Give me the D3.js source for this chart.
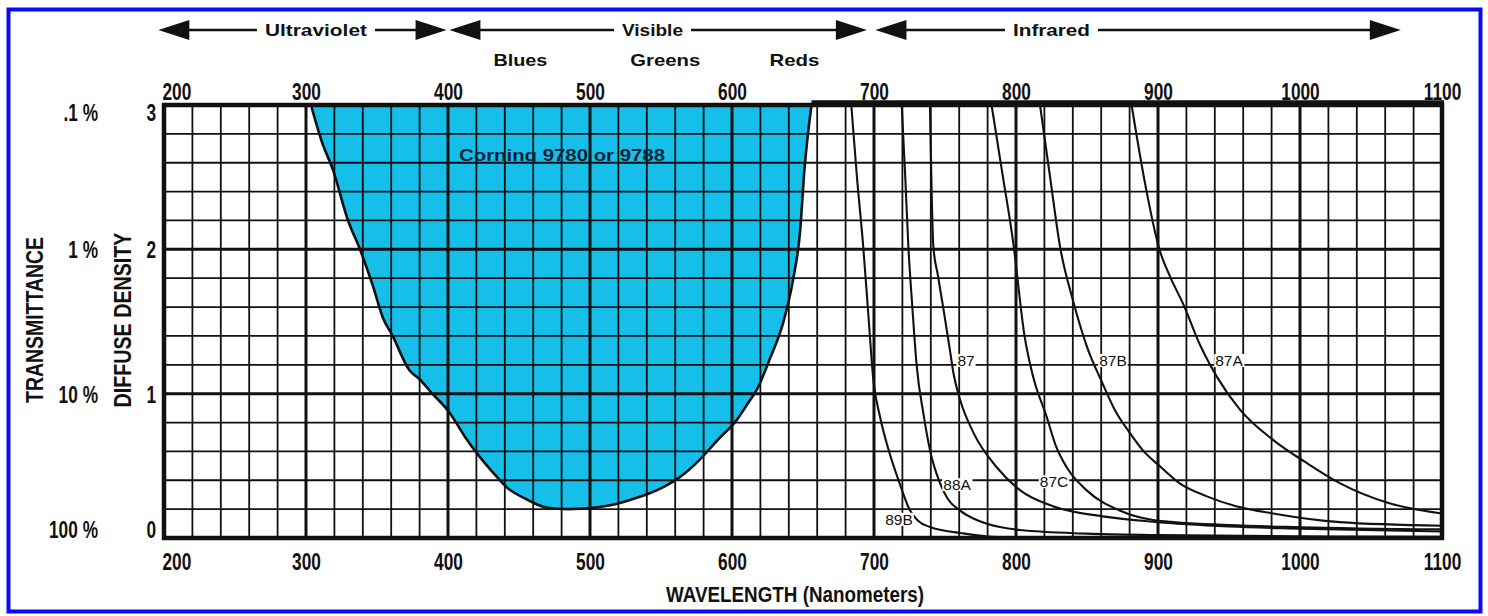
<!DOCTYPE html>
<html>
<head>
<meta charset="utf-8">
<title>Filter transmission</title>
<script src="https://cdn.jsdelivr.net/npm/d3@7"></script>
<style>
	html, body { margin:0; padding:0; background:#fff; }
	svg { display:block; }
	.cond { font-family:"Liberation Sans", Arial, sans-serif; font-weight:bold; fill:#111; }
	.head { font-family:"Liberation Sans", Arial, sans-serif; font-weight:bold; fill:#111; font-size:17px; }
	.ir   { font-family:"Liberation Sans", Arial, sans-serif; font-size:15.5px; fill:#111; }
</style>
</head>
<body>
<div id="svgContainer"></div>
<script>
// axis values
var wavelengthTicks = [200, 300, 400, 500, 600, 700, 800, 900, 1000, 1100];
var densityTicks = [0, 1, 2, 3];
var transmittanceLabels = ["100 %", "10 %", "1 %", ".1 %"];

// spectrum bands on top (nm)
var bandNames = ["Ultraviolet", "Visible", "Infrared"];
var bandStart = [196, 401, 701];
var bandEnd = [399, 695, 1071];
var bandLabelAt = [307, 544, 825];
var colourNames = ["Blues", "Greens", "Reds"];
var colourAt = [451, 553, 644];

// Corning 9780 / 9788 (wavelength nm, diffuse density)
var corningWl = [303.5, 311, 319, 329.6, 338, 347, 354, 361, 373, 380, 389, 401, 412, 422.5, 432, 441.5, 455, 469.7, 485, 502, 516, 530, 542, 553, 563, 577, 590, 603.5, 611, 617.6, 627, 636, 643, 648, 651, 656];
var corningDensity = [3, 2.75, 2.55, 2.2, 2.0, 1.75, 1.53, 1.4, 1.16, 1.1, 1.0, 0.87, 0.7, 0.56, 0.45, 0.35, 0.27, 0.21, 0.2, 0.21, 0.23, 0.27, 0.31, 0.36, 0.42, 0.54, 0.68, 0.82, 0.93, 1.03, 1.25, 1.49, 1.79, 2.13, 2.55, 3];

// infrared filters
var filterNames = ["89B", "88A", "87", "87C", "87B", "87A"];
var wl89B = [684, 688, 692.4, 696, 699.5, 704, 710, 718, 725.4, 731, 739.4, 750, 760.5, 779, 800];
var dens89B = [3, 2.5, 2.02, 1.55, 1.1, 0.85, 0.62, 0.38, 0.19, 0.12, 0.076, 0.05, 0.035, 0.012, 0.003];
var wl88A = [719.5, 722, 724.2, 727, 730, 735, 739.4, 746.5, 752, 760.6, 770, 779, 803, 850, 900, 1000, 1100];
var dens88A = [3, 2.5, 2.02, 1.6, 1.2, 0.85, 0.61, 0.38, 0.27, 0.19, 0.135, 0.1, 0.055, 0.03, 0.02, 0.012, 0.008];
var wl87 = [739.4, 741.8, 745, 749, 753.5, 756, 760.6, 770, 786.4, 803, 826, 861, 896.5, 950, 1000, 1100];
var dens87 = [3, 2.02, 1.82, 1.58, 1.3, 1.14, 0.96, 0.73, 0.49, 0.33, 0.22, 0.15, 0.113, 0.08, 0.065, 0.045];
var wl87C = [782.8, 790, 798, 806, 812, 821.6, 828, 835.7, 849.8, 873, 896.5, 950, 1000, 1100];
var dens87C = [3, 2.55, 2.05, 1.4, 1.12, 0.84, 0.64, 0.49, 0.33, 0.19, 0.125, 0.09, 0.075, 0.06];
var wl87B = [816.9, 824, 831, 840, 849.8, 861, 870, 880, 890, 901, 915, 934, 955, 981, 1028, 1100];
var dens87B = [3, 2.5, 2.02, 1.65, 1.33, 1.07, 0.88, 0.73, 0.6, 0.5, 0.38, 0.29, 0.22, 0.17, 0.11, 0.085];
var wl87A = [881.4, 891, 901, 909, 917.8, 929, 941.3, 957.7, 981, 1004.7, 1028, 1063, 1100];
var dens87A = [3, 2.45, 2.0, 1.8, 1.62, 1.35, 1.12, 0.89, 0.68, 0.52, 0.38, 0.24, 0.17];
// where the filter names sit (nm, density)
var labelWl = [717.6, 758.5, 764.8, 826.8, 868.3, 950];
var labelDensity = [0.13, 0.37, 1.23, 0.39, 1.23, 1.23];

var W = 1488, H = 616;
var plot = {left:164, right:1442, top:105, bottom:538};
var condScale = 0.72; // narrow bold labels

var svg = d3.select("#svgContainer").append("svg").attr("width", W).attr("height", H);

var xScale = d3.scaleLinear().domain([200, 1100]).range([plot.left, plot.right]);
var yScale = d3.scaleLinear().domain([0, 3]).range([plot.bottom, plot.top]);

function zipSeries(wl, dens) {
	return wl.map(function (w, i) { return {w:w, d:dens[i]}; });
}
var corning = zipSeries(corningWl, corningDensity);
var filters = [
	zipSeries(wl89B, dens89B), zipSeries(wl88A, dens88A), zipSeries(wl87, dens87),
	zipSeries(wl87C, dens87C), zipSeries(wl87B, dens87B), zipSeries(wl87A, dens87A)
];

// blue frame
svg.append("rect")
	.attr("x", 8.5).attr("y", 9.5).attr("width", 1472).attr("height", 602)
	.attr("fill", "none").attr("stroke", "#0a0af5").attr("stroke-width", 4);

// corning fill (between top of the graph and the curve)
var area = d3.area()
	.x(function (d) { return xScale(d.w); })
	.y0(yScale(3))
	.y1(function (d) { return yScale(d.d); })
	.curve(d3.curveMonotoneX);
svg.append("path").datum(corning).attr("d", area).attr("fill", "#16bfea");

// grid
var grid = svg.append("g").attr("class", "grid");
var vLines = d3.range(200, 1101, 20);
var hLines = d3.range(0, 3.001, 0.2);
grid.selectAll("line.v").data(vLines).enter().append("line")
	.attr("x1", function (d) { return xScale(d); }).attr("x2", function (d) { return xScale(d); })
	.attr("y1", plot.top).attr("y2", plot.bottom)
	.attr("stroke", "#111")
	.attr("stroke-width", function (d) { return d % 100 === 0 ? 3 : 1.8; });
grid.selectAll("line.h").data(hLines).enter().append("line")
	.attr("y1", function (d) { return yScale(d); }).attr("y2", function (d) { return yScale(d); })
	.attr("x1", plot.left).attr("x2", plot.right)
	.attr("stroke", "#111")
	.attr("stroke-width", function (d) { return Math.abs(d - Math.round(d)) < 1e-6 ? 3 : 1.8; });

// border
svg.append("rect")
	.attr("x", plot.left).attr("y", plot.top)
	.attr("width", plot.right - plot.left).attr("height", plot.bottom - plot.top)
	.attr("fill", "none").attr("stroke", "#111").attr("stroke-width", 4.5);
svg.append("line")
	.attr("x1", xScale(656)).attr("x2", plot.right + 2)
	.attr("y1", plot.top - 3).attr("y2", plot.top - 3)
	.attr("stroke", "#111").attr("stroke-width", 3.5);

// curves
var lineFunction = d3.line()
	.x(function (d) { return xScale(d.w); })
	.y(function (d) { return yScale(d.d); })
	.curve(d3.curveMonotoneX);

svg.append("path").datum(corning).attr("d", lineFunction)
	.attr("fill", "none").attr("stroke", "#111").attr("stroke-width", 2.6);

svg.append("g").selectAll("path").data(filters).enter().append("path")
	.attr("d", lineFunction)
	.attr("fill", "none").attr("stroke", "#111").attr("stroke-width", 2.1);

// filter labels, white behind
var irLabels = svg.append("g").selectAll("g").data(filterNames).enter().append("g")
	.attr("transform", function (d, i) {
		return "translate(" + xScale(labelWl[i]) + "," + yScale(labelDensity[i]) + ")";
	});
irLabels.append("text").attr("class", "ir")
	.attr("text-anchor", "middle").attr("dy", "0.36em")
	.text(function (d) { return d; });
irLabels.each(function () {
	var g = d3.select(this);
	var bb = g.select("text").node().getBBox();
	g.insert("rect", "text")
		.attr("x", bb.x - 1).attr("y", bb.y + 2)
		.attr("width", bb.width + 2).attr("height", bb.height - 4)
		.attr("fill", "#fff");
});

svg.append("text").attr("class", "head")
	.attr("x", 562).attr("y", 161).attr("text-anchor", "middle")
	.attr("font-size", 18)
	.attr("textLength", 206).attr("lengthAdjust", "spacingAndGlyphs")
	.style("fill", "#0e2236")
	.text("Corning 9780 or 9788");

// axes
function styleCond(sel, size) {
	sel.attr("font-family", null).attr("font-size", null);
	sel.selectAll(".domain").remove();
	sel.selectAll("text").attr("class", "cond").attr("font-size", size || 24)
		.attr("fill", "#111");
}

var topAxis = svg.append("g")
	.attr("transform", "translate(0," + plot.top + ")")
	.call(d3.axisTop(xScale).tickValues(wavelengthTicks).tickSize(0).tickPadding(5).tickFormat(d3.format("d")));
styleCond(topAxis);
var bottomAxis = svg.append("g")
	.attr("transform", "translate(0," + plot.bottom + ")")
	.call(d3.axisBottom(xScale).tickValues(wavelengthTicks).tickSize(0).tickPadding(0).tickFormat(d3.format("d")));
styleCond(bottomAxis);
bottomAxis.selectAll("text").attr("dy", null).attr("y", 32);

[topAxis, bottomAxis].forEach(function (ax) {
	ax.selectAll("text").attr("transform", "scale(" + condScale + ",1)");
	ax.selectAll("text").filter(function (d) { return d === 200; })
		.attr("text-anchor", "start").attr("x", -2 / condScale);
});

function leftLabels(xPos, fmt) {
	var ax = svg.append("g")
		.attr("transform", "translate(" + xPos + ",0)")
		.call(d3.axisLeft(yScale).tickValues(densityTicks).tickSize(0).tickPadding(0).tickFormat(fmt));
	styleCond(ax);
	ax.selectAll("text")
		.attr("x", 0)
		.attr("dy", null)
		.attr("y", function (d) { return d === 3 ? 15 : (d === 0 ? -1 : 8.5); })
		.attr("transform", "scale(" + condScale + ",1)");
	return ax;
}
leftLabels(156, function (d) { return d; });
leftLabels(98, function (d) { return transmittanceLabels[densityTicks.indexOf(d)]; });

// axis titles
svg.append("text").attr("class", "cond")
	.attr("font-size", 22)
	.attr("x", 795).attr("y", 602).attr("text-anchor", "middle")
	.attr("textLength", 258).attr("lengthAdjust", "spacingAndGlyphs")
	.text("WAVELENGTH (Nanometers)");
svg.append("text").attr("class", "cond")
	.attr("font-size", 24)
	.attr("transform", "translate(43,320) rotate(-90)").attr("text-anchor", "middle")
	.attr("textLength", 166).attr("lengthAdjust", "spacingAndGlyphs")
	.text("TRANSMITTANCE");
svg.append("text").attr("class", "cond")
	.attr("font-size", 24)
	.attr("transform", "translate(131,320) rotate(-90)").attr("text-anchor", "middle")
	.attr("textLength", 175).attr("lengthAdjust", "spacingAndGlyphs")
	.text("DIFFUSE DENSITY");

// bands with arrows
var arrowY = 30, headLen = 31, headHalf = 10;
var headWidths = {"Ultraviolet":102, "Visible":61, "Infrared":77};
bandNames.forEach(function (name, i) {
	var x0 = xScale(bandStart[i]), x1 = xScale(bandEnd[i]), xm = xScale(bandLabelAt[i]);
	var half = headWidths[name] / 2 + 8;
	var g = svg.append("g");
	g.append("path")
		.attr("d", "M" + x0 + "," + arrowY + "L" + (x0 + headLen) + "," + (arrowY - headHalf) + "L" + (x0 + headLen) + "," + (arrowY + headHalf) + "Z")
		.attr("fill", "#111");
	g.append("path")
		.attr("d", "M" + x1 + "," + arrowY + "L" + (x1 - headLen) + "," + (arrowY - headHalf) + "L" + (x1 - headLen) + "," + (arrowY + headHalf) + "Z")
		.attr("fill", "#111");
	g.append("line").attr("x1", x0 + headLen - 1).attr("x2", xm - half)
		.attr("y1", arrowY).attr("y2", arrowY).attr("stroke", "#111").attr("stroke-width", 2.5);
	g.append("line").attr("x1", xm + half).attr("x2", x1 - headLen + 1)
		.attr("y1", arrowY).attr("y2", arrowY).attr("stroke", "#111").attr("stroke-width", 2.5);
	g.append("text").attr("class", "head")
		.attr("x", xm).attr("y", arrowY + 6).attr("text-anchor", "middle")
		.attr("textLength", headWidths[name]).attr("lengthAdjust", "spacingAndGlyphs")
		.text(name);
});

var colourWidths = [54, 70, 50];
svg.append("g").selectAll("text").data(colourNames).enter().append("text")
	.attr("class", "head")
	.attr("x", function (d, i) { return xScale(colourAt[i]); })
	.attr("y", 66).attr("text-anchor", "middle")
	.attr("textLength", function (d, i) { return colourWidths[i]; })
	.attr("lengthAdjust", "spacingAndGlyphs")
	.text(function (d) { return d; });
</script>
</body>
</html>
